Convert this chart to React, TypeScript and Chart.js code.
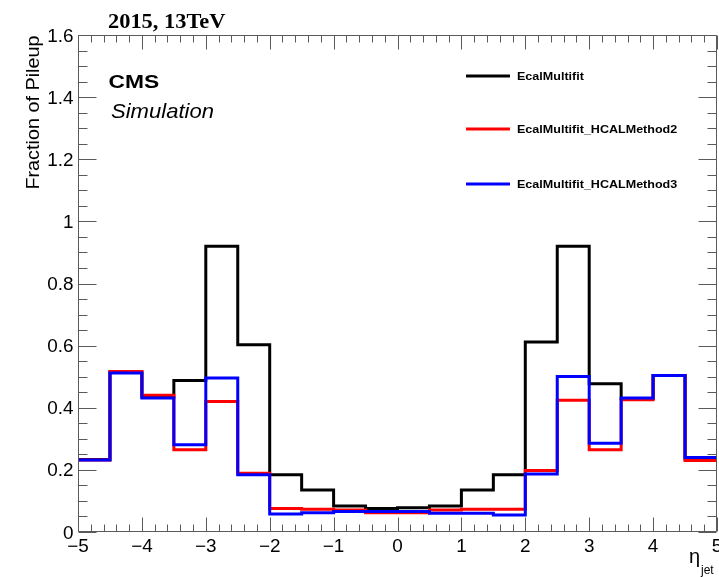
import React, { useEffect, useRef } from 'react';
import { Chart, registerables } from 'chart.js';

Chart.register(...registerables);

// ---- data ----
const binEdges = [-5, -4.5, -4, -3.5, -3, -2.5, -2, -1.5, -1, -0.5, 0, 0.5, 1, 1.5, 2, 2.5, 3, 3.5, 4, 4.5];
const xUpperEdge = 5;

const ecalMultifit = [0.233, 0.515, 0.435, 0.488, 0.92, 0.603, 0.184, 0.135, 0.084, 0.076, 0.078, 0.084, 0.135, 0.184, 0.612, 0.92, 0.477, 0.43, 0.504, 0.235];
const hcalMethod2 = [0.232, 0.517, 0.44, 0.265, 0.42, 0.189, 0.076, 0.073, 0.071, 0.062, 0.062, 0.071, 0.073, 0.073, 0.198, 0.424, 0.265, 0.426, 0.504, 0.23];
const hcalMethod3 = [0.232, 0.512, 0.431, 0.281, 0.496, 0.184, 0.058, 0.062, 0.066, 0.066, 0.066, 0.06, 0.06, 0.055, 0.187, 0.501, 0.286, 0.431, 0.504, 0.24];

const seriesNames = ['EcalMultifit', 'EcalMultifit_HCALMethod2', 'EcalMultifit_HCALMethod3'];
const seriesColors = ['#000000', '#ff0000', '#0000ff'];

const xTickValues = [-5, -4, -3, -2, -1, 0, 1, 2, 3, 4, 5];
const xTickLabels = ['\u22125', '\u22124', '\u22123', '\u22122', '\u22121', '0', '1', '2', '3', '4', '5'];
const yTickValues = [0, 0.2, 0.4, 0.6, 0.8, 1, 1.2, 1.4, 1.6];
const yTickLabels = ['0', '0.2', '0.4', '0.6', '0.8', '1', '1.2', '1.4', '1.6'];

const xRange = [-5, 5];
const yRange = [0, 1.6];

const headerText = '2015, 13TeV';
const cmsText = 'CMS';
const extraText = 'Simulation';
const yTitle = 'Fraction of Pileup';
const xTitleMain = '\u03B7';
const xTitleSub = 'jet';

function toSteps(values: number[]) {
  const pts = binEdges.map((x, i) => ({ x, y: values[i] }));
  pts.push({ x: xUpperEdge, y: values[values.length - 1] });
  return pts;
}

function textAt(
  ctx: CanvasRenderingContext2D,
  text: string,
  x: number,
  y: number,
  font: string,
  sx: number,
  align: CanvasTextAlign,
  rotate = 0,
) {
  ctx.save();
  ctx.translate(x, y);
  if (rotate) ctx.rotate(rotate);
  ctx.scale(sx, 1);
  ctx.font = font;
  ctx.textAlign = align;
  ctx.fillText(text, 0, 0);
  ctx.restore();
}

const SANS = '"Liberation Sans", Arial, sans-serif';
const SERIF = '"Liberation Serif", "Times New Roman", serif';

const decorPlugin = {
  id: 'rootDecor',
  afterDraw(chart: any) {
    const ctx: CanvasRenderingContext2D = chart.ctx;
    const xs = chart.scales.x;
    const ys = chart.scales.y;
    const L = Math.round(xs.getPixelForValue(xRange[0])) + 0.5;
    const R = Math.round(xs.getPixelForValue(xRange[1])) - 0.5;
    const T = Math.round(ys.getPixelForValue(yRange[1])) + 0.5;
    const B = Math.round(ys.getPixelForValue(yRange[0])) - 0.5;
    ctx.save();
    ctx.strokeStyle = '#5a5a5a';
    ctx.lineWidth = 1;
    ctx.beginPath();
    ctx.rect(L, T, R - L, B - T);
    for (let i = 0; i <= 50; i++) {
      const v = xRange[0] + i * 0.2;
      const px = Math.round(xs.getPixelForValue(v)) + 0.5;
      const len = i % 5 === 0 ? 14 : 7;
      ctx.moveTo(px, B);
      ctx.lineTo(px, B - len);
      ctx.moveTo(px, T);
      ctx.lineTo(px, T + len);
    }
    for (let i = 0; i <= 32; i++) {
      const v = i * 0.05;
      const py = Math.round(ys.getPixelForValue(v)) + 0.5;
      const len = i % 4 === 0 ? 18 : 9;
      ctx.moveTo(L, py);
      ctx.lineTo(L + len, py);
      ctx.moveTo(R, py);
      ctx.lineTo(R - len, py);
    }
    ctx.stroke();

    ctx.fillStyle = '#000000';
    ctx.textBaseline = 'alphabetic';
    const tickFont = `18px ${SANS}`;
    xTickValues.forEach((v, i) => {
      textAt(ctx, xTickLabels[i], xs.getPixelForValue(v), 552, tickFont, 1.05, 'center');
    });
    yTickValues.forEach((v, i) => {
      textAt(ctx, yTickLabels[i], 73.5, ys.getPixelForValue(v) + 6.5, tickFont, 1.05, 'right');
    });

    // y title (rotated, aligned to top end)
    textAt(ctx, yTitle, 38.5, T, `18px ${SANS}`, 1.1, 'right', -Math.PI / 2);

    // x title
    textAt(ctx, xTitleMain, 689, 563, `20px ${SANS}`, 1, 'left');
    textAt(ctx, xTitleSub, 701, 574, `12px ${SANS}`, 1, 'left');

    // header
    textAt(ctx, headerText, 108, 28, `bold 20px ${SERIF}`, 1.12, 'left');

    // CMS + Simulation
    textAt(ctx, cmsText, 108.5, 88, `bold 19px ${SANS}`, 1.2, 'left');
    textAt(ctx, extraText, 111, 118, `italic 21px ${SANS}`, 1.05, 'left');

    // legend
    const legendY = [76, 129, 184];
    ctx.textBaseline = 'middle';
    seriesNames.forEach((name, i) => {
      ctx.strokeStyle = seriesColors[i];
      ctx.lineWidth = 3;
      ctx.beginPath();
      ctx.moveTo(466, legendY[i]);
      ctx.lineTo(510, legendY[i]);
      ctx.stroke();
      ctx.fillStyle = '#000000';
      textAt(ctx, name, 517, legendY[i] + 0.5, `bold 11px ${SANS}`, 1.14, 'left');
    });
    ctx.restore();
  },
};

export default function App() {
  const canvasRef = useRef<HTMLCanvasElement | null>(null);

  useEffect(() => {
    const canvas = canvasRef.current;
    if (!canvas) return;
    const allSeries = [ecalMultifit, hcalMethod2, hcalMethod3];
    const chart = new Chart(canvas, {
      type: 'line',
      data: {
        datasets: allSeries.map((vals, i) => ({
          label: seriesNames[i],
          data: toSteps(vals),
          borderColor: seriesColors[i],
          backgroundColor: seriesColors[i],
          borderWidth: 3,
          pointRadius: 0,
          stepped: 'before' as const,
          fill: false,
          order: 3 - i,
          borderCapStyle: 'square' as const,
          borderJoinStyle: 'miter' as const,
        })),
      },
      options: {
        animation: false,
        responsive: false,
        maintainAspectRatio: false,
        events: [],
        layout: { padding: { left: 78, top: 35, right: 2, bottom: 45 } },
        plugins: {
          legend: { display: false },
          tooltip: { enabled: false },
          title: { display: false },
        },
        scales: {
          x: { type: 'linear', min: xRange[0], max: xRange[1], display: false },
          y: { type: 'linear', min: yRange[0], max: yRange[1], display: false },
        },
      },
      plugins: [decorPlugin],
    });
    return () => chart.destroy();
  }, []);

  return (
    <div style={{ position: 'absolute', left: 0, top: 0, width: 719, height: 577, background: '#ffffff' }}>
      <canvas ref={canvasRef} width={719} height={577} style={{ display: 'block', width: 719, height: 577 }} />
    </div>
  );
}
